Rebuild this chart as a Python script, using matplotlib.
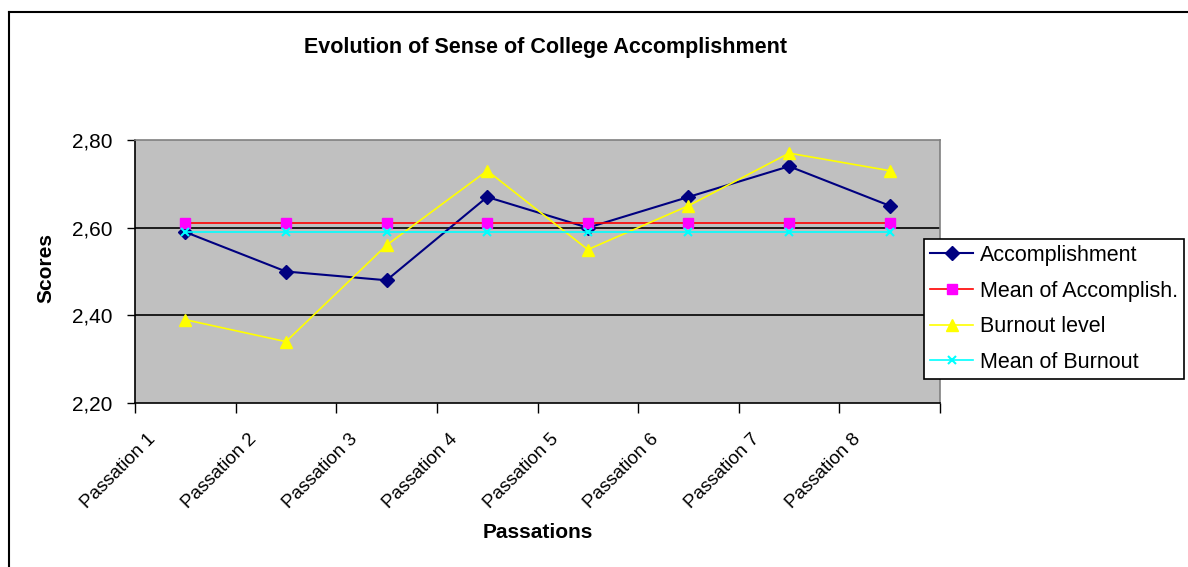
import matplotlib.pyplot as plt
import matplotlib
from matplotlib.lines import Line2D
from matplotlib.transforms import ScaledTranslation
import numpy as np

matplotlib.rcParams['font.family'] = ['Liberation Sans', 'DejaVu Sans']

fontSize = 15

passations = ["Passation 1", "Passation 2", "Passation 3", "Passation 4",
              "Passation 5", "Passation 6", "Passation 7", "Passation 8"]

accomplishment = [2.59, 2.50, 2.48, 2.67, 2.60, 2.67, 2.74, 2.65]
mean_accomplish = [2.61, 2.61, 2.61, 2.61, 2.61, 2.61, 2.61, 2.61]
burnout = [2.39, 2.34, 2.56, 2.73, 2.55, 2.65, 2.77, 2.73]
mean_burnout = [2.59, 2.59, 2.59, 2.59, 2.59, 2.59, 2.59, 2.59]

y_ticks = [2.20, 2.40, 2.60, 2.80]
y_tick_labels = ["2,20", "2,40", "2,60", "2,80"]

W, H = 1188, 567
fig = plt.figure(figsize=(W / 100, H / 100), dpi=100)

# plot area in pixels: x 135..940, y 140..403
ax = fig.add_axes([135 / W, 1 - 403 / H, (940 - 135) / W, (403 - 140) / H])
ax.set_facecolor('#C0C0C0')

pos = np.arange(1, len(passations) + 1)

ax.plot(pos, accomplishment, color='#000080', lw=1.5, marker='D', ms=7,
        mfc='#000080', mec='#000080', label='Accomplishment', clip_on=False)
ax.plot(pos, mean_accomplish, color='#FF0000', lw=1.2, marker='s', ms=7,
        mfc='#FF00FF', mec='#FF00FF', label='Mean of Accomplish.', clip_on=False)
ax.plot(pos, burnout, color='#FFFF00', lw=1.2, marker='^', ms=9,
        mfc='#FFFF00', mec='#FFFF00', label='Burnout level', clip_on=False)
ax.plot(pos, mean_burnout, color='#00FFFF', lw=1.2, marker='x', ms=6, mew=1.5,
        mec='#00FFFF', label='Mean of Burnout', clip_on=False)

ax.set_xlim(0.5, len(passations) + 0.5)
ax.set_ylim(2.2, 2.8)

for y in y_ticks[1:-1]:
    ax.axhline(y, color='black', lw=1.2, zorder=1)

ax.set_yticks(y_ticks)
ax.set_yticklabels(y_tick_labels, fontsize=fontSize)
ax.tick_params(axis='y', direction='out', length=6, width=1, pad=10)

# category labels at centers, boundary ticks as minor ticks
ax.set_xticks(pos)
ax.set_xticklabels(passations, fontsize=13.5, rotation=45)
ax.set_xticks(np.arange(0.5, len(passations) + 1, 1), minor=True)
ax.tick_params(axis='x', which='major', length=0, pad=24)
ax.tick_params(axis='x', which='minor', direction='out', length=7, width=1)
offset = ScaledTranslation(-0.32, 0, fig.dpi_scale_trans)
for label in ax.get_xticklabels():
    label.set_ha('right')
    label.set_va('center')
    label.set_rotation_mode('anchor')
    label.set_transform(label.get_transform() + offset)

for side in ['left', 'bottom']:
    ax.spines[side].set_color('black')
    ax.spines[side].set_linewidth(1.2)
for side in ['top', 'right']:
    ax.spines[side].set_color('#808080')
    ax.spines[side].set_linewidth(1.2)

fig.text(545 / W, 1 - 47 / H, 'Evolution of Sense of College Accomplishment',
         fontsize=15.5, fontweight='bold', ha='center', va='center')
fig.text(538 / W, 1 - 532 / H, 'Passations', fontsize=fontSize,
         fontweight='bold', ha='center', va='center')
fig.text(46 / W, 1 - 268 / H, 'Scores', fontsize=fontSize, fontweight='bold',
         rotation=90, ha='center', va='center')

leg = ax.legend(loc='upper left', bbox_to_anchor=(924 / W, 1 - 239 / H),
                bbox_transform=fig.transFigure, borderaxespad=0,
                fontsize=15.5, fancybox=False, framealpha=1,
                edgecolor='black', handlelength=2.0, handletextpad=0.3,
                labelspacing=0.68, borderpad=0.28)
leg.get_frame().set_linewidth(1.2)

# outer chart border
fig.add_artist(Line2D([8.5 / W, 8.5 / W], [0, 1 - 12 / H], color='black',
                      lw=1.5, transform=fig.transFigure))
fig.add_artist(Line2D([8.5 / W, 1], [1 - 12 / H, 1 - 12 / H], color='black',
                      lw=1.5, transform=fig.transFigure))

fig.savefig('out.png', dpi=100)
